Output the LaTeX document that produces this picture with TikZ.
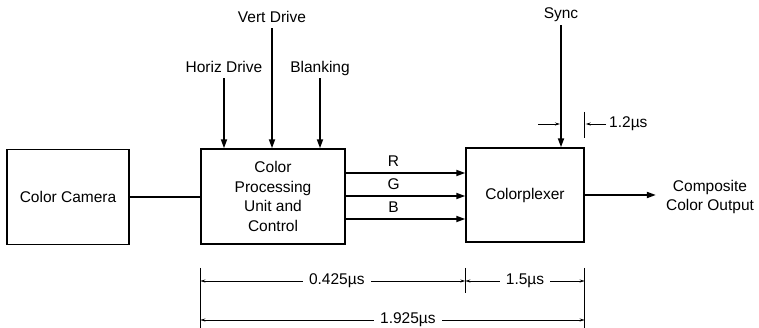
\documentclass[tikz,border=0pt]{standalone}
\usepackage{fontspec}
\setmainfont{Liberation Sans}
\usetikzlibrary{arrows.meta,positioning}

\begin{document}
\begin{tikzpicture}[
  x=1pt,y=-1pt,
  >={Triangle[length=9pt,width=6pt]},
  every node/.style={font=\fontsize{15.5}{19.5}\selectfont},
  block/.style={draw,line width=1.4pt,align=center,inner sep=2pt},
  sig/.style={line width=1.8pt},
  flow/.style={sig,->},
  lbl/.style={text height=11pt,text depth=3pt,inner sep=3pt},
  ext/.style={line width=0.8pt},
  dim/.style={ext,{Stealth[length=5pt,width=3pt]}-{Stealth[length=5pt,width=3pt]}},
  halfdim/.style={ext,-{Stealth[length=5pt,width=3pt]}},
  dimtext/.style={fill=white,inner xsep=6pt,inner ysep=1pt}
]
\useasboundingbox (0,0) rectangle (759,328);

% blocks
\node[block,minimum width=122pt,minimum height=95pt] (camera) at (68,197) {Color Camera};
\node[block,minimum width=144pt,minimum height=95pt] (cpu) at (273,196.5) {Color\\Processing\\Unit and\\Control};
\node[block,minimum width=118pt,minimum height=94pt] (plexer) at (525,195) {Colorplexer};

% inputs
\node[lbl] (horiz) at (224,68.2) {Horiz Drive};
\node[lbl] (vert) at (272,18.2) {Vert Drive};
\node[lbl] (blank) at (320,68.2) {Blanking};
\node[lbl] (sync) at (561,15) {Sync};
\node[align=center,inner xsep=10pt] (out) at (710,197) {Composite\\Color Output};

\draw[sig] (camera.east) -- (camera.east -| cpu.west);
\draw[flow] (horiz) -- (horiz |- cpu.north);
\draw[flow] (vert) -- (vert |- cpu.north);
\draw[flow] (blank) -- (blank |- cpu.north);
\draw[flow] (sync) -- (sync |- plexer.north);
\foreach \chan/\ypos in {R/173,G/196,B/219}
  \draw[flow] (cpu.east |- 0,\ypos) -- node[pos=0.4,above=2pt] {\chan} (plexer.west |- 0,\ypos);
\draw[flow] (plexer.east) -- (plexer.east -| out.west);

% sync timing
\coordinate (tleft) at (538,124);
\node[anchor=west,inner sep=3pt] (tlbl) at (606,124) {1.2µs};
\draw[ext] (plexer.east |- 0,112) -- (plexer.east |- 0,138);
\draw[halfdim] (tleft) -- ([xshift=-1pt]tleft -| sync);
\draw[halfdim] (tlbl.west) -- ([xshift=1pt]tlbl.west -| plexer.east);

% delay dimensions
\coordinate (row1) at (0,281);
\coordinate (row2) at (0,320);
\draw[ext] (cpu.west |- 0,268) -- (cpu.west |- 0,328);
\draw[ext] (plexer.west |- 0,268) -- (plexer.west |- 0,293);
\draw[ext] (plexer.east |- 0,268) -- (plexer.east |- 0,328);
\draw[dim] (cpu.west |- row1) -- node[dimtext,pos=0.515] {0.425µs} (plexer.west |- row1);
\draw[dim] (plexer.west |- row1) -- node[dimtext] {1.5µs} (plexer.east |- row1);
\draw[dim] (cpu.west |- row2) -- node[dimtext,pos=0.54] {1.925µs} (plexer.east |- row2);
\end{tikzpicture}
\end{document}
